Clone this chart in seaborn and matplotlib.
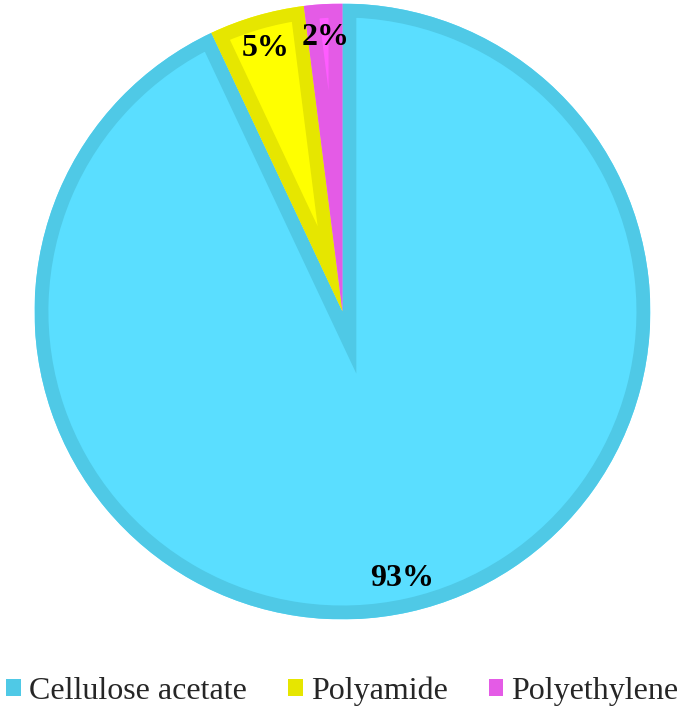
import matplotlib
matplotlib.use("Agg")
import matplotlib.pyplot as plt
import seaborn as sns
from matplotlib.patches import Patch

labels = ["Cellulose acetate", "Polyamide", "Polyethylene"]
values = [93, 5, 2]
face_colors = ["#5ADEFF", "#FFFF00", "#FF5CFF"]
edge_colors = ["#4FC9E6", "#E6E600", "#E45BE6"]

sns.set_style("white")
plt.rcParams['font.family'] = ['Liberation Serif', 'DejaVu Serif']

fig = plt.figure(figsize=(6.85, 7.11), dpi=100)
ax = fig.add_axes([0.0504, 0.1287, 0.899, 0.8664])

wedges, texts, autotexts = ax.pie(
    values, colors=face_colors, startangle=90, counterclock=False,
    autopct=lambda p: f"{p:.0f}%", pctdistance=0.89,
    wedgeprops=dict(linewidth=0),
    textprops=dict(fontsize=23, fontweight="bold", color="black"),
)
ax.set_xlim(-1, 1)
ax.set_ylim(-1, 1)
ax.set_aspect("equal")
ax.axis("off")

# inner border: a thick stroke of each wedge, clipped to the wedge itself
for w, ec in zip(wedges, edge_colors):
    border = matplotlib.patches.Wedge(
        w.center, w.r, w.theta1, w.theta2,
        facecolor="none", edgecolor=ec, linewidth=20,
        transform=ax.transData, zorder=w.get_zorder() + 0.5,
    )
    ax.add_patch(border)
    clip = matplotlib.patches.Wedge(
        w.center, w.r, w.theta1, w.theta2, transform=ax.transData
    )
    border.set_clip_path(clip)
for t in autotexts:
    t.set_zorder(5)

handles = [Patch(facecolor=c, edgecolor="none") for c in edge_colors]
fig.legend(handles, labels, loc="center", bbox_to_anchor=(0.5, 0.028),
           ncol=3, frameon=False, fontsize=23, handlelength=0.45,
           handleheight=0.45, handletextpad=0.25, columnspacing=1.3,
           borderpad=0, borderaxespad=0)

fig.savefig("out.png", dpi=100)
